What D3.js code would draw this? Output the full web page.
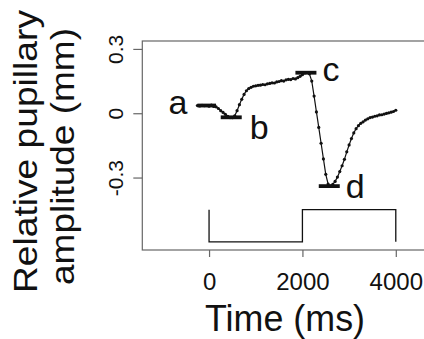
<!DOCTYPE html>
<html>
<head>
<meta charset="utf-8">
<script src="https://cdn.jsdelivr.net/npm/d3@7/dist/d3.min.js"></script>
<style>
  html, body { margin: 0; padding: 0; background: #fff; }
  svg { display: block; font-family: "Liberation Sans", Arial, sans-serif; }
</style>
</head>
<body>
<svg id="chart" width="424" height="339"></svg>
<script>
// ---- data ----
const timeMs = [-250,-200,-150,-100,-50,0,50,100,150,200,250,300,350,400,450,500,550,600,650,700,
  750,800,850,900,950,1000,1050,1100,1150,1200,1250,1300,1350,1400,1450,1500,1550,1600,1650,1700,
  1750,1800,1850,1900,1950,2000,2050,2100,2150,2200,2250,2300,2350,2400,2450,2500,2550,2600,2650,2700,
  2750,2800,2850,2900,2950,3000,3050,3100,3150,3200,3250,3300,3350,3400,3450,3500,3550,3600,3650,3700,
  3750,3800,3850,3900,3950,4000];
const amplitude = [0.036,0.034,0.037,0.035,0.036,0.033,0.038,0.032,0.030,0.022,0.012,0.004,-0.005,-0.014,-0.020,-0.021,-0.012,0.012,0.040,0.065,
  0.088,0.105,0.115,0.121,0.126,0.128,0.130,0.131,0.134,0.133,0.137,0.139,0.142,0.141,0.146,0.148,0.152,0.150,0.156,0.158,
  0.157,0.162,0.160,0.166,0.172,0.180,0.188,0.190,0.184,0.150,0.080,0.006,-0.066,-0.140,-0.213,-0.285,-0.330,-0.340,-0.332,-0.318,
  -0.298,-0.272,-0.245,-0.215,-0.180,-0.148,-0.118,-0.092,-0.072,-0.058,-0.047,-0.040,-0.032,-0.026,-0.020,-0.018,-0.014,-0.012,-0.008,-0.007,
  -0.004,-0.001,0.002,0.005,0.008,0.014];

// mean bars a-d
const barLabels = ["a","b","c","d"];
const barStart  = [-250, 250, 1850, 2350];
const barEnd    = [150, 700, 2300, 2800];
const barValue  = [0.036, -0.019, 0.189, -0.340];

// stimulus trace
const stimTime  = [0, 0, 2000, 2000, 4000, 4000];
const stimValue = [-0.45, -0.60, -0.60, -0.45, -0.45, -0.60];

const xTicks = [0, 2000, 4000];
const yTicks = [-0.3, 0, 0.3];
const yTickLabels = ["-0.3", "0", "0.3"];
const xLim = [-1430, 4690];
const yLim = [-0.638, 0.337];

// ---- layout ----
const svg = d3.select("#chart");
const mLeft = 142.3, mRight = 428, mTop = 41, mBottom = 250;
const x = d3.scaleLinear().domain(xLim).range([mLeft, mRight]);
const y = d3.scaleLinear().domain(yLim).range([mBottom, mTop]);
const axisColor = "#666";

svg.append("rect").attr("width", 424).attr("height", 339).attr("fill", "#fff");

// box
svg.append("rect")
  .attr("x", mLeft).attr("y", mTop)
  .attr("width", mRight - mLeft).attr("height", mBottom - mTop)
  .attr("fill", "none").attr("stroke", axisColor).attr("stroke-width", 1.2);

// y axis
const gy = svg.append("g").attr("transform", `translate(${mLeft},0)`)
  .call(d3.axisLeft(y).tickValues(yTicks).tickSize(9).tickFormat((d, i) => yTickLabels[i]));
gy.select(".domain").remove();
gy.selectAll(".tick line").attr("stroke", axisColor).attr("stroke-width", 1.2);
gy.selectAll(".tick text")
  .attr("transform", "rotate(-90)")
  .attr("x", 0).attr("y", -19.5).attr("dy", 0)
  .attr("text-anchor", "middle")
  .attr("fill", "#111")
  .style("font-size", "21px")
  .style("font-family", "'Liberation Sans', Arial, sans-serif");

// x axis
const gx = svg.append("g").attr("transform", `translate(0,${mBottom})`)
  .call(d3.axisBottom(x).tickValues(xTicks).tickSize(7).tickFormat(d3.format("d")));
gx.select(".domain").remove();
gx.selectAll(".tick line").attr("stroke", axisColor).attr("stroke-width", 1.2);
gx.selectAll(".tick text")
  .attr("y", 40).attr("dy", 0)
  .attr("fill", "#111")
  .style("font-size", "24px")
  .style("font-family", "'Liberation Sans', Arial, sans-serif");

// titles
svg.append("text")
  .attr("x", 285).attr("y", 331)
  .attr("text-anchor", "middle")
  .attr("textLength", 160).attr("lengthAdjust", "spacingAndGlyphs")
  .attr("fill", "#111")
  .style("font-size", "37px")
  .text("Time (ms)");

svg.append("text")
  .attr("transform", "translate(37,151.5) rotate(-90)")
  .attr("text-anchor", "middle")
  .attr("textLength", 283).attr("lengthAdjust", "spacingAndGlyphs")
  .attr("fill", "#111")
  .style("font-size", "34px")
  .text("Relative pupillary");

svg.append("text")
  .attr("transform", "translate(74,156.5) rotate(-90)")
  .attr("text-anchor", "middle")
  .attr("textLength", 257).attr("lengthAdjust", "spacingAndGlyphs")
  .attr("fill", "#111")
  .style("font-size", "34px")
  .text("amplitude (mm)");

// stimulus trace
const stimData = stimTime.map((t, i) => [t, stimValue[i]]);
svg.append("path")
  .attr("d", d3.line().x(d => x(d[0])).y(d => y(d[1]))(stimData))
  .attr("fill", "none").attr("stroke", "#111").attr("stroke-width", 1.3);

// response curve
const data = timeMs.map((t, i) => [t, amplitude[i]]);
svg.append("path")
  .attr("d", d3.line().x(d => x(d[0])).y(d => y(d[1]))(data))
  .attr("fill", "none").attr("stroke", "#111").attr("stroke-width", 1.2);
svg.selectAll("circle.pt").data(data).enter().append("circle")
  .attr("class", "pt")
  .attr("cx", d => x(d[0])).attr("cy", d => y(d[1]))
  .attr("r", 1.6).attr("fill", "#111");

// mean bars
svg.selectAll("line.bar").data(barLabels).enter().append("line")
  .attr("class", "bar")
  .attr("x1", (d, i) => x(barStart[i])).attr("x2", (d, i) => x(barEnd[i]))
  .attr("y1", (d, i) => y(barValue[i])).attr("y2", (d, i) => y(barValue[i]))
  .attr("stroke", "#111").attr("stroke-width", 3.8);

// bar labels
const labelDx = [-29, 8, 6, 6];
const labelDy = [8, 22, 8, 12];
svg.selectAll("text.lab").data(barLabels).enter().append("text")
  .attr("class", "lab")
  .attr("x", (d, i) => (labelDx[i] < 0 ? x(barStart[i]) : x(barEnd[i])) + labelDx[i])
  .attr("y", (d, i) => y(barValue[i]) + labelDy[i])
  .attr("fill", "#111")
  .style("font-size", "34px")
  .text(d => d);
</script>
</body>
</html>
